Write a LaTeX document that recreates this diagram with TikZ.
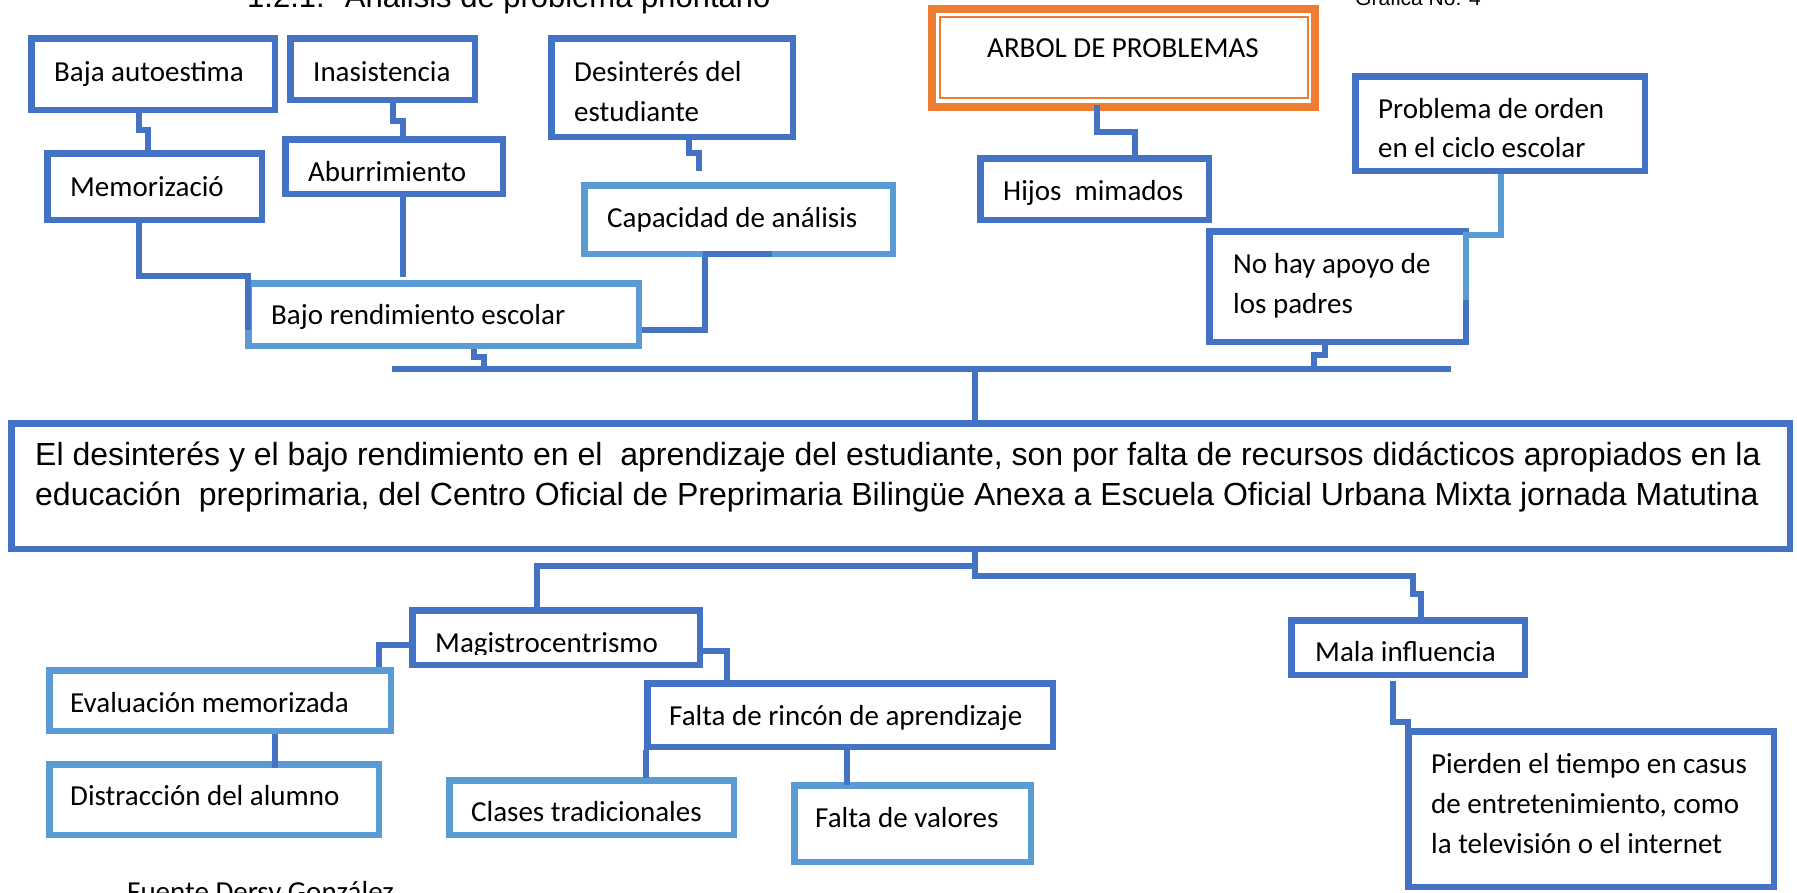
\documentclass[tikz,border=0pt]{standalone}
\usepackage{fontspec}
\newfontfamily\calf{Carlito}
\newfontfamily\arialf{Liberation Sans}
\usetikzlibrary{calc}
\definecolor{dblue}{HTML}{4472C4}
\definecolor{lblue}{HTML}{5B9BD5}
\definecolor{orng}{HTML}{ED7D31}
\begin{document}
\begin{tikzpicture}[x=1pt,y=-1pt,
  dbox/.style={draw=dblue,line width=6.5pt,rectangle,inner sep=0pt},
  lbox/.style={draw=lblue,line width=6.5pt,rectangle,inner sep=0pt},
  dconn/.style={draw=dblue,line width=6.5pt},
  lconn/.style={draw=lblue,line width=6.5pt},
  lbl/.style={font=\calf\fontsize{29}{35}\selectfont,anchor=base west,inner sep=0pt},
  big/.style={font=\arialf\fontsize{32}{40}\selectfont,anchor=base west,inner sep=0pt},
]
\useasboundingbox (0,0) rectangle (1797,892);
\clip (0,0) rectangle (1797,892);
\fill[white] (0,0) rectangle (1797,892);

% header texts
\node[font=\arialf\fontsize{31}{37}\selectfont,anchor=base west,inner sep=0pt] (title) at (247,7) {1.2.1.~ Análisis de problema prioritario};
\node[font=\arialf\fontsize{21}{25}\selectfont,anchor=base west,inner sep=0pt] (grafica) at (1355,5) {Gráfica No. 4};
\node[lbl] (fuente) at (127,901) {Fuente Dersy González};

% boxes
\node[dbox,minimum width=243.5pt,minimum height=71.5pt] (b1) at (153,74) {};
\node[dbox,minimum width=184.5pt,minimum height=61.5pt] (b2) at (382.5,69) {};
\node[dbox,minimum width=241.5pt,minimum height=98.5pt] (b3) at (672,87.5) {};
\node[dbox,minimum width=214.5pt,minimum height=66.5pt] (m1) at (154.5,186.5) {};
\node[dbox,minimum width=217.5pt,minimum height=54.5pt] (m2) at (394,166.5) {};
\node[lbox,minimum width=308.5pt,minimum height=68.5pt] (cap) at (738.5,219.5) {};
\node[lbox,minimum width=390.5pt,minimum height=62.5pt] (bajo) at (443.5,314.5) {};
\node[draw=orng,line width=8.3pt,minimum width=382.6pt,minimum height=97.6pt,inner sep=0pt] (arbol) at (1123.5,58) {};
\node[draw=orng,line width=2.3pt,minimum width=368pt,minimum height=81pt,inner sep=0pt] (arbolin) at (1124,57.5) {};
\node[dbox,minimum width=228.5pt,minimum height=61.5pt] (hijos) at (1094.5,189) {};
\node[dbox,minimum width=289.5pt,minimum height=94.5pt] (prob) at (1500,123.5) {};
\node[dbox,minimum width=256.5pt,minimum height=110.5pt] (nohay) at (1337.5,286.5) {};
\node[dbox,minimum width=1778.5pt,minimum height=125.5pt] (main) at (900.5,486) {};
\node[dbox,minimum width=287.5pt,minimum height=54.5pt] (magi) at (556,637.5) {};
\node[lbox,minimum width=341.5pt,minimum height=60.5pt] (eval) at (220,700.5) {};
\node[lbox,minimum width=329.5pt,minimum height=70.5pt] (dist) at (214,799.5) {};
\node[dbox,minimum width=405.5pt,minimum height=63.5pt] (falta) at (850,715) {};
\node[lbox,minimum width=284.5pt,minimum height=54.5pt] (clases) at (591.5,807.5) {};
\node[lbox,minimum width=236.5pt,minimum height=76.5pt] (valores) at (912.5,823.5) {};
\node[dbox,minimum width=233.5pt,minimum height=54.5pt] (mala) at (1408,647.5) {};
\node[dbox,minimum width=365.5pt,minimum height=155.5pt] (pierden) at (1591,809) {};

% texts
\node[lbl] (t1) at (54,81) {Baja autoestima};
\node[lbl] (t2) at (313,81) {Inasistencia};
\node[lbl] (t3a) at (574,81) {Desinterés del};
\node[lbl] (t3b) at (574,121) {estudiante};
\node[lbl] (t4) at (70,196) {Memorizació};
\node[lbl] (t5) at (308,181) {Aburrimiento};
\node[lbl] (t6) at (607,227) {Capacidad de análisis};
\node[lbl] (t7) at (271,324) {Bajo rendimiento escolar};
\node[lbl] (t8) at (987,57) {ARBOL DE PROBLEMAS};
\node[lbl] (t9) at (1003,200) {Hijos~ mimados};
\node[lbl] (t10a) at (1378,118) {Problema de orden};
\node[lbl] (t10b) at (1378,157) {en el ciclo escolar};
\node[lbl] (t11a) at (1233,273) {No hay apoyo de};
\node[lbl] (t11b) at (1233,313) {los padres};
\node[big] (tm1) at (35,465) {El desinterés y el bajo rendimiento en el~ aprendizaje del estudiante, son por falta de recursos didácticos apropiados en la};
\node[big] (tm2) at (35,505) {educación~ preprimaria, del Centro Oficial de Preprimaria Bilingüe Anexa a Escuela Oficial Urbana Mixta jornada Matutina};
\begin{scope}
\clip (412,600) rectangle (700,654);
\node[lbl] (t12) at (435,652) {Magistrocentrismo};
\end{scope}
\node[lbl] (t13) at (70,712) {Evaluación memorizada};
\node[lbl] (t14) at (70,805) {Distracción del alumno};
\node[lbl] (t15) at (669,725) {Falta de rincón de aprendizaje};
\node[lbl] (t16) at (471,821) {Clases tradicionales};
\node[lbl] (t17) at (815,827) {Falta de valores};
\node[lbl] (t18) at (1315,661) {Mala influencia};
\node[lbl] (t19a) at (1431,773) {Pierden el tiempo en casus};
\node[lbl] (t19b) at (1431,813) {de entretenimiento, como};
\node[lbl] (t19c) at (1431,853) {la televisión o el internet};

% connector coordinates
\coordinate (k1a) at (139,130); \coordinate (k1b) at (148,130);
\coordinate (k2a) at (393,121); \coordinate (k2b) at (403,121);
\coordinate (k3a) at (689,153); \coordinate (k3b) at (699,153); \coordinate (k3c) at (699,171);
\coordinate (k4a) at (139,276); \coordinate (k4b) at (248,276); \coordinate (k4c) at (248,330);
\coordinate (k5) at (403,277);
\coordinate (k6a) at (705,330); \coordinate (k6t) at (703,254); \coordinate (k6s) at (772,254);
\coordinate (k7a) at (474,357); \coordinate (k7b) at (484,357);
\coordinate (barL) at (392,369); \coordinate (barR) at (1451,369);
\coordinate (k8) at (975,369);
\coordinate (k9a) at (1325,355); \coordinate (k9b) at (1314,355);
\coordinate (k10a) at (1501,235); \coordinate (k10b) at (1466,235); \coordinate (k10c) at (1466,300);
\coordinate (k11a) at (1097,132); \coordinate (k11b) at (1135,132);
\coordinate (k12) at (975,579);
\coordinate (k13a) at (975,566); \coordinate (k13b) at (537,566);
\coordinate (k14a) at (975,576); \coordinate (k14b) at (1413,576); \coordinate (k14c) at (1413,594); \coordinate (k14d) at (1421,594);
\coordinate (k15a) at (379,645);
\coordinate (k16a) at (727,651);
\coordinate (k17) at (275,768);
\coordinate (k18) at (646,778);
\coordinate (k19) at (847,785);
\coordinate (k20a) at (1393,722); \coordinate (k20b) at (1408,722);

% connectors
\draw[dconn] (b1.south -| k1a) -- (k1a) -- (k1b) -- (m1.north -| k1b);
\draw[dconn] (b2.south -| k2a) -- (k2a) -- (k2b) -- (m2.north -| k2b);
\draw[dconn] (b3.south -| k3a) -- (k3a) -- (k3b) -- (k3c);
\draw[dconn] (m1.south -| k4a) -- (k4a) -- (k4b) -- (k4c);
\draw[dconn] (m2.south -| k5) -- (k5);
\draw[dconn] (cap.south -| k6a) -- (k6a) -- (bajo.east |- k6a);
\draw[dconn] (k6t) -- (k6s);
\draw[dconn] (bajo.south -| k7a) -- (k7a) -- (k7b) -- (k7b |- barL);
\draw[dconn] (barL) -- (barR);
\draw[dconn] (k8) -- (main.north -| k8);
\draw[dconn] (nohay.south -| k9a) -- (k9a) -- (k9b) -- (k9b |- barL);
\draw[lconn] (prob.south -| k10a) -- (k10a) -- (k10b) -- (k10c);
\draw[dconn] ([yshift=6pt]arbol.south -| k11a) -- (k11a) -- (k11b) -- (hijos.north -| k11b);
\draw[dconn] (main.south -| k12) -- (k12);
\draw[dconn] (k13a) -- (k13b) -- (magi.north -| k13b);
\draw[dconn] (k14a) -- (k14b) -- (k14c) -- (k14d) -- (mala.north -| k14d);
\draw[dconn] (magi.west |- k15a) -- (k15a) -- (eval.north -| k15a);
\draw[dconn] (magi.east |- k16a) -- (k16a) -- (falta.north -| k16a);
\draw[dconn] (eval.south -| k17) -- (k17);
\draw[dconn] (falta.south -| k18) -- (k18);
\draw[dconn] (falta.south -| k19) -- (k19);
\draw[dconn] ([yshift=-3pt]mala.south -| k20a) -- (k20a) -- (k20b) -- (pierden.north -| k20b);
\end{tikzpicture}
\end{document}
